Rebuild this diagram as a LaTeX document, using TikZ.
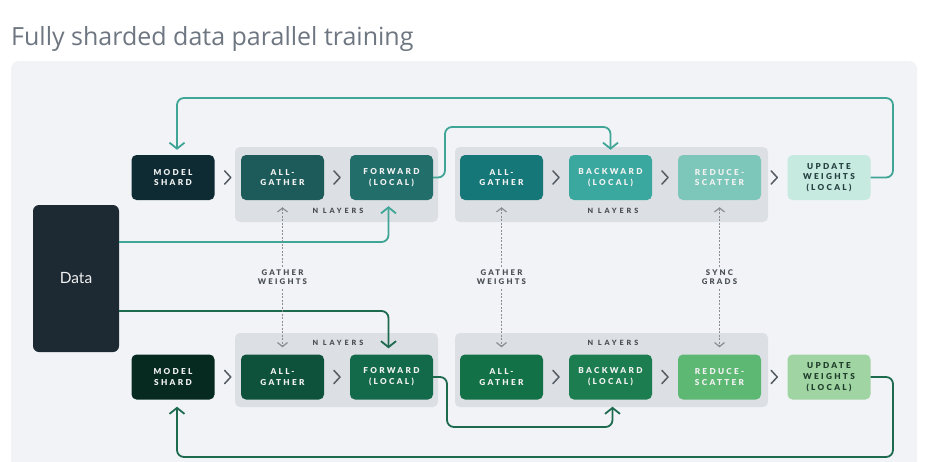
\documentclass[tikz,border=0pt]{standalone}
\usepackage{fontspec}
\setmainfont{Lato}
\newfontfamily\titlefont{Open Sans}
\IfFontExistsTF{Lato Black}{%
  \newfontfamily\lblfont[LetterSpace=28]{Lato Black}%
  \newfontfamily\nlfont[LetterSpace=40]{Lato Black}}{%
  \newfontfamily\lblfont[LetterSpace=28,FakeBold=2]{Lato}%
  \newfontfamily\nlfont[LetterSpace=40,FakeBold=2]{Lato}}
\usetikzlibrary{arrows.meta,calc}
\definecolor{panelc}{HTML}{F1F3F6}
\definecolor{grpc}{HTML}{DCDFE3}
\definecolor{titlec}{HTML}{6E7681}
\definecolor{tealc}{HTML}{3FA596}
\definecolor{greenc}{HTML}{1D6A4F}
\definecolor{chevc}{HTML}{555B63}
\definecolor{dashc}{HTML}{8A8D92}
\definecolor{lblc}{HTML}{4B5056}
\definecolor{datac}{HTML}{1D2A33}
\definecolor{tA}{HTML}{0E2A33}
\definecolor{tB}{HTML}{1D5B5A}
\definecolor{tC}{HTML}{226E6B}
\definecolor{tD}{HTML}{157778}
\definecolor{tE}{HTML}{3AA89F}
\definecolor{tF}{HTML}{7DC7BA}
\definecolor{tG}{HTML}{C6E9E0}
\definecolor{tGtext}{HTML}{24403F}
\definecolor{bA}{HTML}{062A1F}
\definecolor{bB}{HTML}{0F523C}
\definecolor{bC}{HTML}{136A4B}
\definecolor{bD}{HTML}{127146}
\definecolor{bE}{HTML}{1C7E50}
\definecolor{bF}{HTML}{5CB873}
\definecolor{bG}{HTML}{A0D4A3}
\definecolor{bGtext}{HTML}{1F3D2A}
\tikzset{
  box/.style={rounded corners=5pt, minimum width=83pt, minimum height=45pt, inner sep=0pt,
    align=center, text=white!90!gray, font=\lblfont\fontsize{8.2}{10.8}\selectfont},
  grp/.style={fill=grpc, rounded corners=5pt, inner sep=0pt},
  nlayers/.style={text=lblc, inner sep=0pt, font=\nlfont\fontsize{7.2}{8}\selectfont},
  dlabel/.style={text=lblc, fill=panelc, inner sep=3pt, align=center, font=\lblfont\fontsize{7.8}{9.5}\selectfont},
  chevron/.style={draw=chevc, line width=1.5pt, line cap=round, line join=round},
  tline/.style={draw=tealc, line width=1.8pt, rounded corners=7pt, -{Straight Barb[length=6pt,width=15pt]}},
  gline/.style={draw=greenc, line width=1.8pt, rounded corners=7pt, -{Straight Barb[length=6pt,width=15pt]}},
  dline/.style={draw=dashc, line width=1.2pt, dash pattern=on 2pt off 1.5pt,
    {Straight Barb[length=4pt,width=10pt]}-{Straight Barb[length=4pt,width=10pt]}}
}
\newcommand{\mychev}[2]{\path[chevron] ($(#1.east)!0.5!(#2.west)+(-3,-6.5)$) -- ++(6,6.5) -- ++(-6,6.5);}
\begin{document}
\begin{tikzpicture}[x=1pt,y=-1pt]
\useasboundingbox (0,0) rectangle (926,461);
\clip (0,0) rectangle (926,461);
\fill[white] (0,0) rectangle (926,461);
\node[anchor=base west, inner sep=0pt, text=titlec, font=\titlefont\fontsize{25}{28}\selectfont] (title) at (11,45) {Fully sharded data parallel training};
\fill[panelc, rounded corners=8pt] (11,61) rectangle (917,480);

% groups
\node[grp, minimum width=203pt, minimum height=75pt] (g1t) at (336.5,184.5) {};
\node[grp, minimum width=313pt, minimum height=75pt] (g2t) at (611.5,184.5) {};
\node[grp, minimum width=203pt, minimum height=74pt] (g1b) at (336.5,370) {};
\node[grp, minimum width=313pt, minimum height=74pt] (g2b) at (611.5,370) {};
\node[nlayers] (nl1t) at (338,210.5) {N LAYERS};
\node[nlayers] (nl2t) at (613,210.5) {N LAYERS};
\node[nlayers] (nl1b) at (338,343) {N LAYERS};
\node[nlayers] (nl2b) at (613,343) {N LAYERS};

% data
\node[fill=datac, rounded corners=6pt, minimum width=86pt, minimum height=147pt, inner sep=0pt,
  text=white!88!gray, font=\fontsize{15.5}{18}\selectfont] (data) at (76,278.5) {Data};

% top row
\node[box, fill=tA] (ms1) at (173,177.5) {MODEL\\SHARD};
\node[box, fill=tB] (ag1) at (282.5,177.5) {ALL-\\GATHER};
\node[box, fill=tC] (fw1) at (391.5,177.5) {FORWARD\\(LOCAL)};
\node[box, fill=tD] (ag2) at (501.5,177.5) {ALL-\\GATHER};
\node[box, fill=tE] (bw1) at (610.5,177.5) {BACKWARD\\(LOCAL)};
\node[box, fill=tF] (rs1) at (719.5,177.5) {REDUCE-\\SCATTER};
\node[box, fill=tG, text=tGtext] (up1) at (829,177.5) {UPDATE\\WEIGHTS\\(LOCAL)};

% bottom row
\node[box, fill=bA] (ms2) at (173,377) {MODEL\\SHARD};
\node[box, fill=bB] (ag3) at (282.5,377) {ALL-\\GATHER};
\node[box, fill=bC] (fw2) at (391.5,377) {FORWARD\\(LOCAL)};
\node[box, fill=bD] (ag4) at (501.5,377) {ALL-\\GATHER};
\node[box, fill=bE] (bw2) at (610.5,377) {BACKWARD\\(LOCAL)};
\node[box, fill=bF] (rs2) at (719.5,377) {REDUCE-\\SCATTER};
\node[box, fill=bG, text=bGtext] (up2) at (829,377) {UPDATE\\WEIGHTS\\(LOCAL)};

% chevrons
\mychev{ms1}{ag1}\mychev{ag1}{fw1}\mychev{ag2}{bw1}\mychev{bw1}{rs1}\mychev{rs1}{up1}
\mychev{ms2}{ag3}\mychev{ag3}{fw2}\mychev{ag4}{bw2}\mychev{bw2}{rs2}\mychev{rs2}{up2}

% connectors
\coordinate (c1) at (893,98);
\coordinate (c2) at (445,127);
\coordinate (c3) at (893,457);
\coordinate (c4) at (447,427);
\draw[tline, shorten >=5pt] (up1.east) -| (c1) -| ([xshift=4pt]ms1.north);
\draw[tline, shorten >=5pt] (fw1.east) -| (c2) -| (bw1.north);
\draw[tline, shorten >=6pt] ([yshift=36.5pt]data.east) -| ([xshift=-3pt]fw1.south);
\draw[gline, shorten >=6pt] ([yshift=-32.5pt]data.east) -| ([xshift=-3pt]fw2.north);
\draw[gline, shorten >=7pt] (fw2.east) -| (c4) -| ([xshift=2pt]bw2.south);
\draw[gline, shorten >=7pt] (up2.east) -| (c3) -| ([xshift=4pt]ms2.south);

% dashed sync arrows
\draw[dline, shorten <=7pt, shorten >=7pt] (ag1.south) -- node[dlabel] (lab1) {GATHER\\WEIGHTS} (ag3.north);
\draw[dline, shorten <=7pt, shorten >=7pt] (ag2.south) -- node[dlabel] (lab2) {GATHER\\WEIGHTS} (ag4.north);
\draw[dline, shorten <=7pt, shorten >=7pt] (rs1.south) -- node[dlabel] (lab3) {SYNC\\GRADS} (rs2.north);
\end{tikzpicture}
\end{document}
